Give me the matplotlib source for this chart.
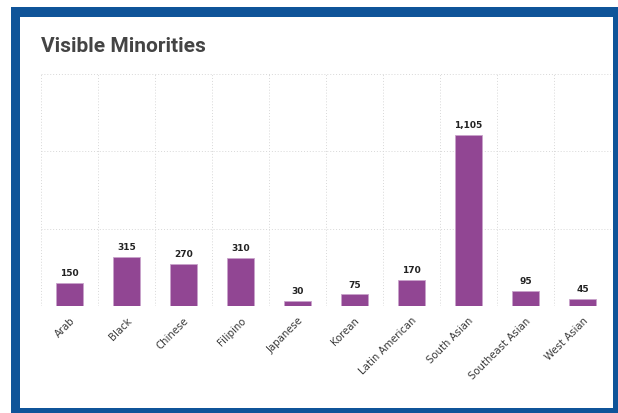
import matplotlib
matplotlib.use("Agg")
from matplotlib import pyplot as plt
from matplotlib.patches import Rectangle

# les données
categories = ["Arab", "Black", "Chinese", "Filipino", "Japanese", "Korean",
              "Latin American", "South Asian", "Southeast Asian", "West Asian"]
valeurs = [150, 315, 270, 310, 30, 75, 170, 1105, 95, 45]
graduations_y = [0, 500, 1000, 1500]

W, H = 618, 413
bleu = "#0f5499"
violet = "#914693"

fig = plt.figure(figsize=(W / 100, H / 100), dpi=100)
fig.patch.set_facecolor("white")

def rect_px(x0, y0, x1, y1, couleur):
    # rectangle en pixels (origine en haut à gauche)
    r = Rectangle((x0 / W, 1 - y1 / H), (x1 - x0) / W, (y1 - y0) / H,
                  transform=fig.transFigure, facecolor=couleur,
                  edgecolor="none", zorder=-10)
    fig.patches.append(r)

# cadre bleu
rect_px(11, 7, W + 5, H + 5, bleu)
rect_px(20, 17, 613, 408, "white")

ax = fig.add_axes([41 / W, 1 - 306 / H, (611 - 41) / W, (306 - 74) / H])
x = list(range(len(categories)))
barres = ax.bar(x, valeurs, width=0.48, color=violet, edgecolor="#c9a3cb",
                linewidth=0.6, zorder=3)

for xi, v in zip(x, valeurs):
    ax.annotate(f"{v:,}", (xi, v), xytext=(0, 3.5), textcoords="offset points",
                ha="center", va="bottom", fontsize=6.5, fontweight="bold",
                color="#222222", family="DejaVu Sans")

ax.set_xlim(-0.5, len(categories) - 0.5)
ax.set_ylim(0, 1500)
ax.set_yticks(graduations_y)
ax.set_yticklabels([])
ax.set_xticks(x)
ax.set_xticklabels(categories, rotation=45, ha="right", rotation_mode="anchor",
                   fontsize=7.3, color="#3a3a3a", family="DejaVu Sans")
ax.set_xticks([i - 0.5 for i in range(len(categories) + 1)], minor=True)
ax.tick_params(axis="both", which="both", length=0)
ax.tick_params(axis="x", which="major", pad=7)
ax.grid(axis="y", which="major", linestyle=(0, (1, 2)), color="#d8d8d8", linewidth=0.7)
ax.grid(axis="x", which="minor", linestyle=(0, (1, 2)), color="#d8d8d8", linewidth=0.7)
for s in ax.spines.values():
    s.set_visible(False)
ax.set_facecolor("none")

fig.text(41 / W, 1 - 47 / H, "Visible Minorities", fontsize=15,
         fontweight="bold", family="Roboto", color="#444444", va="center", ha="left")

fig.savefig("out.png", dpi=100)
